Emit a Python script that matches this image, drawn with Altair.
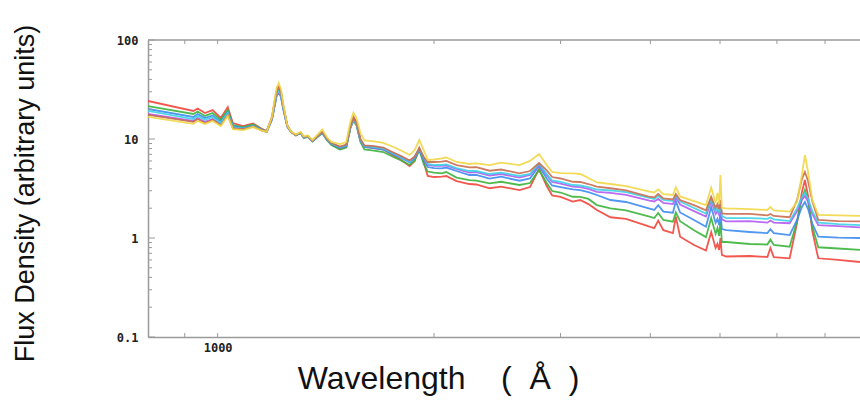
import altair as alt
import pandas as pd

# Rest-frame wavelength grid (Angstrom)
wavelength = [800, 925, 938, 960, 984, 1010, 1033, 1050, 1085, 1120,
              1150, 1170, 1190, 1200, 1208, 1216, 1225, 1235, 1250, 1265,
              1285, 1304, 1318, 1335, 1355, 1375, 1398, 1420, 1440, 1480,
              1510, 1530, 1545, 1560, 1580, 1600, 1650, 1700, 1750, 1800,
              1850, 1880, 1908, 1935, 1960, 2000, 2050, 2080, 2150, 2240,
              2290, 2390, 2480, 2630, 2720, 2800, 2870, 2920, 3000, 3120,
              3195, 3280, 3370, 3520, 3700, 3990, 4050, 4102, 4170, 4300,
              4340, 4400, 4600, 4780, 4861, 4930, 4959, 4985, 5007, 5030,
              5100, 5500, 5820, 5876, 5940, 6250, 6400, 6500, 6563, 6630,
              6720, 6850, 7300, 7830]

red = [24.2, 19.2, 20.35, 18.3, 19.6, 16.3, 21.0, 14.5, 13.5, 14.35,
       12.75, 12.05, 16.7, 23.6, 30.9, 34.3, 29.8, 21.0, 13.8, 11.8,
       10.85, 11.5, 10.35, 10.6, 9.55, 10.5, 11.8, 9.77, 8.8, 7.93,
       8.30, 13.2, 16.7, 14.9, 9.77, 8.30, 8.11, 7.83, 6.89, 6.14,
       5.34, 6.0, 8.11, 5.86, 4.23, 4.13, 4.16, 4.23, 3.76, 3.51,
       3.47, 3.18, 3.30, 3.05, 3.27, 4.98, 3.35, 2.69, 2.60, 2.33,
       2.42, 2.20, 1.92, 1.62, 1.56, 1.30, 1.26, 1.50, 1.20, 1.12,
       1.64, 1.03, 0.85, 0.748, 1.15, 0.793, 0.87, 0.757, 1.0, 0.674,
       0.65, 0.658, 0.643, 0.793, 0.639, 0.624, 1.42, 2.91, 3.85, 2.66,
       1.18, 0.624, 0.60, 0.572]

green = [21.5, 17.9, 18.95, 17.1, 18.3, 15.6, 19.6, 13.8, 13.2, 14.0,
         12.6, 11.9, 16.2, 22.1, 29.0, 32.0, 28.1, 20.35, 13.55, 11.8,
         10.85, 11.5, 10.2, 10.5, 9.44, 10.35, 11.5, 9.66, 8.69, 7.83,
         8.2, 12.9, 15.2, 13.8, 9.33, 7.83, 7.65, 7.39, 6.65, 6.07,
         5.46, 6.07, 7.74, 5.59, 4.69, 4.58, 4.50, 4.64, 4.08, 3.85,
         3.80, 3.57, 3.70, 3.43, 3.59, 4.86, 3.59, 2.98, 2.88, 2.61,
         2.60, 2.48, 2.15, 1.99, 1.90, 1.64, 1.59, 1.79, 1.52, 1.46,
         1.81, 1.48, 1.20, 1.02, 1.59, 1.10, 1.26, 1.05, 1.45, 0.911,
         0.911, 0.870, 0.86, 0.966, 0.85, 0.817, 1.48, 2.51, 3.05, 2.34,
         1.31, 0.806, 0.783, 0.757]

blue = [20.1, 16.7, 17.9, 16.3, 17.3, 14.9, 18.7, 13.5, 12.9, 13.65,
        12.45, 11.8, 15.7, 21.2, 27.2, 29.8, 26.4, 19.45, 13.3, 11.8,
        10.97, 11.5, 10.35, 10.6, 9.55, 10.5, 11.5, 9.77, 8.9, 8.11,
        8.49, 12.9, 15.9, 14.2, 9.55, 8.30, 8.11, 7.83, 7.05, 6.43,
        5.79, 6.35, 7.74, 6.14, 5.21, 5.09, 5.05, 5.15, 4.75, 4.33,
        4.33, 3.98, 4.16, 3.79, 3.99, 5.34, 3.99, 3.39, 3.27, 3.10,
        3.05, 2.91, 2.72, 2.42, 2.31, 1.98, 1.92, 2.15, 1.85, 1.80,
        2.36, 1.81, 1.52, 1.30, 2.06, 1.42, 1.56, 1.35, 1.83, 1.23,
        1.20, 1.15, 1.12, 1.23, 1.12, 1.07, 1.52, 2.06, 2.31, 1.96,
        1.40, 1.03, 1.01, 1.0]

purple = [17.9, 15.2, 16.3, 14.9, 15.9, 14.2, 17.5, 12.9, 12.6, 13.35,
          12.3, 11.8, 15.8, 21.6, 27.8, 30.5, 27.0, 19.7, 13.35, 11.8,
          10.97, 11.5, 10.35, 10.6, 9.55, 10.5, 11.65, 9.88, 9.0, 8.30,
          8.69, 13.2, 15.6, 14.0, 9.77, 8.49, 8.30, 8.02, 7.3, 6.65,
          6.0, 6.58, 7.93, 6.43, 5.46, 5.34, 5.34, 5.40, 4.98, 4.58,
          4.64, 4.28, 4.43, 4.08, 4.33, 5.46, 4.33, 3.68, 3.55, 3.30,
          3.27, 3.13, 2.93, 2.85, 2.72, 2.39, 2.34, 2.48, 2.26, 2.20,
          2.57, 2.18, 1.87, 1.65, 2.36, 1.75, 1.87, 1.71, 2.06, 1.54,
          1.47, 1.48, 1.43, 1.50, 1.43, 1.41, 1.87, 2.42, 2.66, 2.34,
          1.75, 1.35, 1.32, 1.28]

cyan = [19.2, 15.9, 17.1, 15.6, 16.7, 14.5, 18.3, 13.2, 12.75, 13.5,
        12.3, 11.8, 15.9, 22.0, 28.3, 31.3, 27.5, 19.95, 13.4, 11.8,
        10.97, 11.5, 10.35, 10.6, 9.66, 10.5, 11.65, 9.88, 9.0, 8.30,
        8.69, 13.2, 15.75, 14.2, 9.77, 8.49, 8.30, 8.02, 7.22, 6.58,
        5.93, 6.58, 7.93, 6.5, 5.59, 5.46, 5.46, 5.53, 5.09, 4.75,
        4.75, 4.43, 4.58, 4.23, 4.43, 5.59, 4.43, 3.81, 3.68, 3.43,
        3.39, 3.27, 3.09, 3.02, 2.91, 2.54, 2.48, 2.66, 2.42, 2.36,
        2.72, 2.34, 2.01, 1.77, 2.48, 1.87, 2.01, 1.83, 2.20, 1.67,
        1.59, 1.59, 1.56, 1.61, 1.54, 1.48, 1.99, 2.60, 2.85, 2.50,
        1.87, 1.43, 1.38, 1.35]

brown = [17.5, 14.9, 15.9, 14.5, 15.6, 13.8, 17.5, 12.9, 12.6, 13.35,
         12.3, 11.8, 16.3, 23.0, 30.2, 33.5, 29.2, 20.7, 13.5, 11.8,
         10.97, 11.65, 10.5, 10.7, 9.66, 10.6, 11.8, 10.0, 9.12, 8.4,
         8.8, 13.5, 16.3, 14.5, 10.0, 8.6, 8.49, 8.2, 7.39, 6.73,
         6.07, 6.65, 8.11, 6.58, 5.86, 5.86, 5.90, 6.0, 5.46, 5.17,
         5.21, 4.78, 4.92, 4.50, 4.75, 5.72, 4.81, 4.13, 3.99, 3.70,
         3.68, 3.51, 3.30, 3.18, 3.02, 2.61, 2.57, 2.78, 2.51, 2.45,
         2.78, 2.42, 2.15, 1.90, 2.61, 2.01, 2.20, 1.96, 2.42, 1.77,
         1.75, 1.75, 1.69, 1.75, 1.67, 1.62, 2.42, 3.94, 4.64, 3.76,
         2.36, 1.52, 1.48, 1.47]

yellow = [16.7, 14.2, 15.2, 14.2, 15.2, 13.5, 17.1, 12.6, 12.3, 13.2,
          12.2, 11.8, 16.8, 24.5, 32.8, 36.8, 31.7, 21.75, 13.7, 11.9,
          11.1, 11.8, 10.6, 10.85, 9.77, 10.97, 12.45, 10.35, 9.33, 8.9,
          9.33, 14.9, 18.45, 16.3, 11.5, 9.66, 9.44, 9.12, 8.4, 7.65,
          6.89, 7.74, 9.77, 7.74, 6.14, 6.21, 6.38, 6.5, 5.86, 5.59,
          5.68, 5.46, 5.76, 5.46, 6.0, 7.05, 5.46, 4.64, 4.53, 4.50,
          4.43, 4.04, 3.64, 3.51, 3.35, 2.94, 2.88, 3.10, 2.78, 2.72,
          3.25, 2.63, 2.36, 2.15, 3.23, 2.26, 2.85, 2.20, 4.33, 2.01,
          1.99, 1.96, 1.92, 2.06, 1.90, 1.85, 2.31, 4.33, 6.89, 4.64,
          2.42, 1.71, 1.69, 1.67]

series_names = ["red", "green", "blue", "purple", "cyan", "brown", "yellow"]
series_colors = ["#f0463c", "#3cb43c", "#3c8cf0", "#b45af0", "#3cd2e6", "#c86e50", "#f0d746"]
series_values = [red, green, blue, purple, cyan, brown, yellow]

x_ticks_minor = [900, 2000, 3000, 4000, 5000, 6000, 7000]
x_ticks_major = [1000]
y_ticks_major = [0.1, 1, 10, 100]
y_ticks_minor = [0.2, 0.3, 0.4, 0.5, 0.6, 0.7, 0.8, 0.9,
                 2, 3, 4, 5, 6, 7, 8, 9,
                 20, 30, 40, 50, 60, 70, 80, 90]

rows = []
for name, vals in zip(series_names, series_values):
    for i, (w, f) in enumerate(zip(wavelength, vals)):
        rows.append({"series": name, "wavelength": w, "flux": f, "idx": i})
df = pd.DataFrame(rows)

W, H = 712, 297
AXIS_GRAY = "#9a9a9a"

x_scale = alt.Scale(type="log", domain=[800, 7830], nice=False)
y_scale = alt.Scale(type="log", domain=[0.1, 100], nice=False)

x_axis = alt.Axis(values=x_ticks_major, format="d", grid=False, ticks=False,
                  labelFont="DejaVu Sans Mono", labelFontWeight="bold",
                  labelFontSize=12, labelColor="#222", labelPadding=5,
                  domainColor=AXIS_GRAY, domainWidth=1.5,
                  title="Wavelength\u00a0\u00a0\u00a0\u00a0(\u00a0\u00a0Å\u00a0\u00a0)",
                  titleFont="Liberation Sans", titleFontSize=32,
                  titleFontWeight="normal", titleColor="#111",
                  titleX=290, titleY=51, titleAlign="center",
                  titleBaseline="alphabetic")
y_axis = alt.Axis(values=y_ticks_major, format="~g", grid=False, ticks=False,
                  labelFont="DejaVu Sans Mono", labelFontWeight="bold",
                  labelFontSize=12, labelColor="#222", labelPadding=10,
                  domainColor=AXIS_GRAY, domainWidth=1.5,
                  title="Flux Density (arbitrary units)",
                  titleFont="Liberation Sans", titleFontSize=27,
                  titleFontWeight="normal", titleColor="#111",
                  titleX=-115, titleY=153, titleAlign="center",
                  titleBaseline="alphabetic")

lines = alt.Chart(df).mark_line(strokeWidth=1.8, clip=True, opacity=0.9).encode(
    x=alt.X("wavelength:Q", scale=x_scale, axis=x_axis),
    y=alt.Y("flux:Q", scale=y_scale, axis=y_axis),
    color=alt.Color("series:N", scale=alt.Scale(domain=series_names, range=series_colors),
                    legend=None),
    order=alt.Order("idx:Q"),
)

# tick tables use the same field names so that they share the lines' scales and axes
ytick_df = pd.DataFrame({"flux": y_ticks_major + y_ticks_minor,
                         "kind": ["major"] * len(y_ticks_major) + ["minor"] * len(y_ticks_minor)})
xtick_df = pd.DataFrame({"wavelength": x_ticks_major + x_ticks_minor})

ymaj = alt.Chart(ytick_df).transform_filter("datum.kind == 'major'").mark_rule(
    color=AXIS_GRAY, strokeWidth=1).encode(
    y=alt.Y("flux:Q", scale=y_scale, axis=y_axis), x=alt.value(0), x2=alt.value(7))
ymin = alt.Chart(ytick_df).transform_filter("datum.kind == 'minor'").mark_rule(
    color=AXIS_GRAY, strokeWidth=1).encode(
    y=alt.Y("flux:Q", scale=y_scale, axis=y_axis), x=alt.value(0), x2=alt.value(4))
xbot = alt.Chart(xtick_df).mark_rule(color=AXIS_GRAY, strokeWidth=1).encode(
    x=alt.X("wavelength:Q", scale=x_scale, axis=x_axis), y=alt.value(H), y2=alt.value(H - 4))
xtop = alt.Chart(xtick_df).mark_rule(color=AXIS_GRAY, strokeWidth=1).encode(
    x=alt.X("wavelength:Q", scale=x_scale, axis=x_axis), y=alt.value(0), y2=alt.value(4))
top_line = alt.Chart(pd.DataFrame({"a": [0]})).mark_rule(
    color=AXIS_GRAY, strokeWidth=1.5).encode(x=alt.value(0), x2=alt.value(W), y=alt.value(0))

chart = alt.layer(lines, top_line, xtop, xbot, ymin, ymaj).properties(
    width=W, height=H,
    padding={"left": 148, "top": 40, "right": 0, "bottom": 64},
    autosize=alt.AutoSizeParams(type="none"),
    background="white",
).configure_view(stroke=None)

chart.save("out.html", embed_options={"renderer": "svg", "actions": False})
